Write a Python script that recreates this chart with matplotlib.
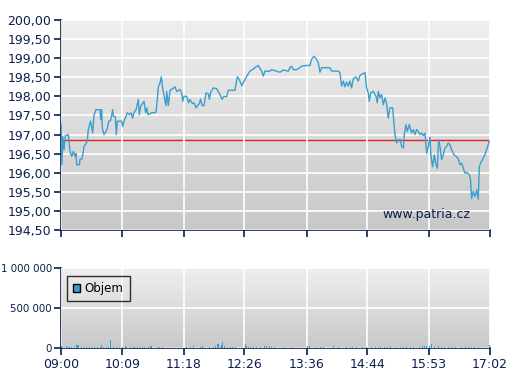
import numpy as np
import matplotlib
matplotlib.use("Agg")
import matplotlib.pyplot as plt
from matplotlib.colors import LinearSegmentedColormap

# price: minutes after 09:00, value
t_price = [0.0, 1.1, 1.9, 3.4, 4.9, 8.2, 10.1, 12.0, 13.9, 15.7, 16.9, 17.6, 20.6, 21.4, 23.6,
           25.1, 25.8, 28.1, 29.6, 30.7, 31.8, 33.3, 35.6, 37.1, 38.2, 39.0, 43.8, 44.6, 45.7,
           46.4, 48.3, 50.6, 52.1, 53.6, 55.8, 58.1, 58.8, 61.0, 62.2, 63.3, 68.2, 69.3, 70.8,
           73.0, 74.5, 76.8, 78.6, 80.5, 82.0, 84.3, 86.9, 88.0, 89.5, 93.3, 95.1, 96.3, 97.8,
           101.9, 106.7, 108.2, 109.4, 111.2, 112.7, 114.2, 116.5, 118.0, 118.7, 120.6, 122.5,
           125.5, 128.1, 130.0, 133.7, 135.6, 136.7, 138.2, 141.2, 143.4, 144.9, 147.6, 149.4,
           151.7, 153.2, 155.4, 156.9, 158.4, 160.7, 162.9, 165.5, 166.7, 168.2, 171.2, 174.9,
           178.6, 180.9, 183.1, 186.1, 188.0, 195.5, 196.6, 198.1, 200.4, 203.0, 206.7, 209.3,
           212.3, 218.0, 221.7, 225.4, 227.3, 229.2, 234.8, 236.6, 246.0, 249.7, 255.4, 257.2,
           259.1, 261.0, 264.7, 268.5, 270.3, 276.0, 279.7, 281.6, 284.2, 287.2, 289.1, 290.9,
           292.8, 302.2, 304.1, 311.5, 313.4, 315.3, 317.2, 319.0, 320.9, 322.8, 324.7, 326.5,
           328.4, 331.4, 334.0, 335.9, 339.6, 341.5, 343.4, 345.2, 346.4, 347.9, 350.9, 353.9,
           355.4, 356.5, 358.4, 360.2, 362.1, 364.0, 365.8, 367.7, 369.6, 372.6, 374.1, 375.2,
           377.1, 379.0, 380.8, 382.7, 384.6, 385.7, 387.6, 389.1, 391.3, 393.9, 395.8, 397.7,
           399.6, 401.4, 403.3, 405.2, 407.0, 408.9, 410.8, 412.7, 414.5, 415.7, 417.5, 419.4,
           420.9, 422.8, 424.3, 425.8, 427.6, 429.5, 431.4, 433.3, 435.1, 437.0, 438.9, 441.5,
           443.7, 446.4, 448.2, 450.1, 452.0, 453.9, 455.7, 458.7, 460.2, 461.3, 463.2, 465.1,
           467.0, 468.8, 470.0, 470.7, 476.3, 481.2]
price = [197.28, 196.21, 196.95, 196.60, 196.97, 197.00, 196.56, 196.43, 196.56, 196.43, 196.50,
         196.21, 196.21, 196.36, 196.36, 196.56, 196.69, 196.76, 196.86, 197.13, 197.23, 197.35,
         197.04, 197.52, 197.57, 197.65, 197.65, 197.39, 197.65, 197.17, 197.00, 197.08, 197.17,
         197.35, 197.37, 197.65, 197.48, 197.46, 197.00, 197.35, 197.35, 197.21, 197.35, 197.48,
         197.57, 197.52, 197.57, 197.43, 197.58, 197.65, 197.92, 197.52, 197.74, 197.87, 197.57,
         197.70, 197.52, 197.57, 197.58, 197.92, 198.25, 198.35, 198.51, 198.22, 197.92, 197.76,
         198.13, 197.76, 198.16, 198.20, 198.25, 198.13, 198.18, 198.09, 197.87, 198.00, 198.00,
         197.83, 197.92, 197.81, 197.83, 197.70, 197.76, 197.81, 197.93, 197.76, 197.76, 198.09,
         198.07, 197.92, 198.11, 198.22, 198.20, 198.05, 197.92, 198.00, 197.99, 198.16, 198.16,
         198.31, 198.51, 198.44, 198.28, 198.44, 198.55, 198.66, 198.75, 198.81, 198.66, 198.53,
         198.66, 198.66, 198.70, 198.63, 198.69, 198.66, 198.75, 198.79, 198.70, 198.70, 198.75,
         198.79, 198.81, 198.81, 198.97, 199.05, 198.97, 198.88, 198.63, 198.75, 198.75, 198.66,
         198.66, 198.62, 198.27, 198.40, 198.25, 198.37, 198.27, 198.40, 198.22, 198.46, 198.51,
         198.40, 198.55, 198.60, 198.62, 198.22, 198.09, 197.87, 198.09, 198.13, 198.00, 197.83,
         198.13, 197.96, 198.05, 197.78, 197.96, 197.81, 197.43, 197.70, 197.70, 197.30, 197.00,
         196.78, 196.86, 196.88, 196.69, 196.65, 197.00, 197.26, 197.08, 197.26, 197.04, 197.13,
         197.00, 197.13, 197.08, 197.00, 197.04, 196.97, 197.04, 196.51, 196.69, 196.93, 196.43,
         196.16, 196.47, 196.25, 196.12, 196.86, 196.69, 196.34, 196.47, 196.65, 196.69, 196.78,
         196.73, 196.60, 196.47, 196.43, 196.36, 196.21, 196.25, 196.12, 195.99, 196.01, 195.95,
         195.81, 195.33, 195.51, 195.38, 195.55, 195.31, 196.16, 196.21, 196.47, 196.82]
ref_price = 196.85

# volume bars: minutes after 09:00, shares
t_vol = [0, 1, 2, 6, 8, 10, 12, 15, 17, 18, 19, 20, 23, 26, 29, 32, 35, 38, 41, 44, 46, 48, 51,
         53, 56, 59, 62, 66, 69, 72, 74, 78, 81, 83, 86, 89, 92, 94, 98, 101, 102, 108, 111, 114,
         118, 136, 141, 145, 149, 157, 159, 164, 167, 171, 174, 176, 177, 179, 180, 181, 182,
         184, 187, 190, 193, 196, 207, 208, 211, 213, 216, 220, 224, 229, 231, 234, 237, 240,
         251, 255, 260, 264, 277, 279, 282, 287, 292, 295, 306, 309, 312, 321, 325, 328, 332,
         336, 339, 343, 346, 349, 353, 357, 359, 363, 367, 370, 373, 377, 381, 385, 388, 393,
         396, 400, 403, 406, 408, 411, 414, 416, 420, 424, 428, 431, 435, 439, 443, 446, 450,
         454, 458, 461, 465, 469, 481]
vol = [30000, 22000, 18000, 22000, 17000, 15000, 18000, 16000, 38000, 40000, 35000, 36000,
       17000, 14000, 16000, 13000, 15000, 14000, 12000, 15000, 36000, 12000, 13000, 10000,
       104000, 12000, 14000, 11000, 15000, 20000, 12000, 13000, 10000, 12000, 11000, 14000,
       10000, 12000, 13000, 22000, 20000, 12000, 11000, 13000, 12000, 15000, 10000, 12000,
       24000, 18000, 20000, 16000, 15000, 17000, 20000, 45000, 52000, 18000, 40000, 75000,
       32000, 20000, 18000, 17000, 14000, 16000, 54000, 22000, 15000, 12000, 14000, 10000,
       15000, 22000, 20000, 24000, 10000, 11000, 12000, 12000, 10000, 14000, 30000, 28000,
       24000, 12000, 10000, 12000, 24000, 22000, 16000, 15000, 14000, 16000, 12000, 15000,
       14000, 18000, 17000, 16000, 13000, 15000, 14000, 18000, 16000, 20000, 14000, 15000,
       16000, 14000, 18000, 15000, 16000, 14000, 12000, 26000, 30000, 24000, 20000, 54000,
       18000, 20000, 16000, 15000, 17000, 16000, 14000, 17000, 15000, 14000, 13000, 15000,
       12000, 10000, 42000]

tick_pos = [0, 69, 138, 206, 276, 344, 413, 482]
tick_labels = ["09:00", "10:09", "11:18", "12:26", "13:36", "14:44", "15:53", "17:02"]
price_ticks = [194.5, 195.0, 195.5, 196.0, 196.5, 197.0, 197.5, 198.0, 198.5, 199.0, 199.5, 200.0]
vol_ticks = [0, 500000, 1000000]
vol_labels = ["0", "500 000", "1 000 000"]

navy = "#0b1f4b"
line_c = "#3a9fce"
plt.rcParams["font.family"] = "DejaVu Sans"

fig = plt.figure(figsize=(5.07, 3.8), dpi=100)
ax1 = fig.add_axes([61/507, 1-230/380, 429/507, 210/380])
ax2 = fig.add_axes([61/507, 1-348/380, 429/507, 80/380])

grad = LinearSegmentedColormap.from_list("g", ["#c8c8c8", "#efefef"])
for ax in (ax1, ax2):
    ax.imshow(np.linspace(0, 1, 256).reshape(-1, 1), extent=[0, 1, 0, 1], transform=ax.transAxes,
              aspect="auto", cmap=grad, origin="lower", zorder=0)
    ax.set_xlim(0, 482)
    ax.set_xticks(tick_pos)
    for s in ("top", "right"):
        ax.spines[s].set_visible(False)
    for s in ("left", "bottom"):
        ax.spines[s].set_color(navy)
        ax.spines[s].set_linewidth(1.2)
    ax.tick_params(colors=navy, labelcolor=navy, labelsize=9, length=5, width=1.2, pad=2)
    ax.grid(True, color="white", linewidth=1.2, zorder=1)
    ax.set_axisbelow(False)

ax1.plot(t_price, price, color=line_c, linewidth=1.0, zorder=3)
ax1.axhline(ref_price, color="#e02424", linewidth=1.0, zorder=2)
ax1.set_ylim(194.5, 200.0)
ax1.set_yticks(price_ticks)
ax1.set_yticklabels([f"{v:.2f}".replace(".", ",") for v in price_ticks])
ax1.set_xticklabels([])
ax1.text(0.955, 0.075, "www.patria.cz", transform=ax1.transAxes, ha="right", va="center",
         color=navy, fontsize=9, zorder=4)

ax2.bar(t_vol, vol, width=1.0, color=line_c, linewidth=0, zorder=3)
ax2.set_ylim(0, 1000000)
ax2.set_yticks(vol_ticks)
ax2.set_yticklabels(vol_labels)
ax2.tick_params(axis="y", labelsize=7.4, pad=1.5)
ax2.set_xticklabels(tick_labels)
leg = ax2.legend([plt.Rectangle((0, 0), 1, 1, facecolor=line_c, edgecolor="black", linewidth=1)],
                 ["Objem"], loc="upper left", bbox_to_anchor=(0.0, 0.98), frameon=True,
                 fancybox=False, fontsize=8.5, handlelength=0.6, handleheight=0.6,
                 borderpad=0.55, handletextpad=0.35, borderaxespad=0.5)
leg.get_frame().set_edgecolor("black")
leg.get_frame().set_facecolor("none")
leg.get_frame().set_linewidth(1.0)

fig.savefig("out.png", dpi=100)
